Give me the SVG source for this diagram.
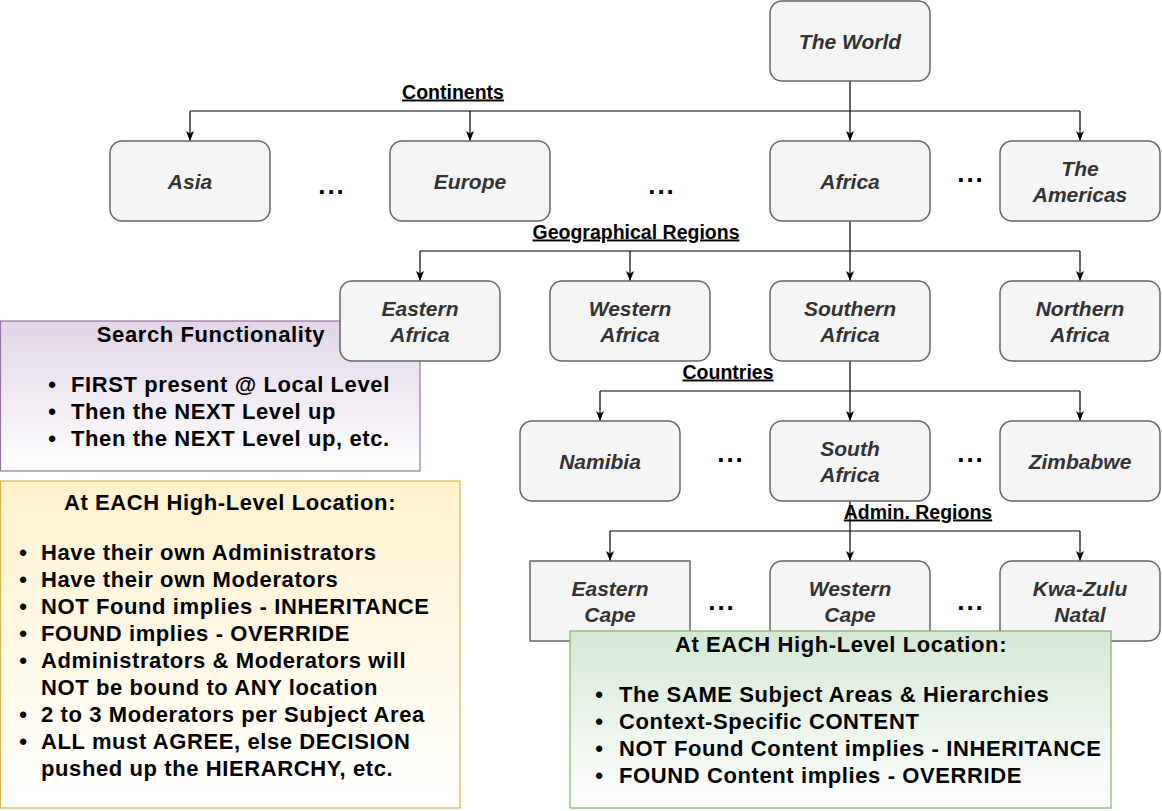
<svg xmlns="http://www.w3.org/2000/svg" width="1162" height="811" viewBox="0 0 1162 811">
<defs>
<linearGradient id="gP" x1="0" y1="0" x2="0" y2="1"><stop offset="0" stop-color="#e1d5e7"/><stop offset="1" stop-color="#ffffff"/></linearGradient>
<linearGradient id="gY" x1="0" y1="0" x2="0" y2="1"><stop offset="0" stop-color="#fff2cc"/><stop offset="1" stop-color="#ffffff"/></linearGradient>
<linearGradient id="gG" x1="0" y1="0" x2="0" y2="1"><stop offset="0" stop-color="#d5e8d4"/><stop offset="1" stop-color="#ffffff"/></linearGradient>
<marker id="arr" viewBox="0 0 10 10" refX="10" refY="5" markerWidth="10" markerHeight="10" markerUnits="userSpaceOnUse" orient="auto">
<path d="M0,1 L10,5 L0,9 L2.5,5 Z" fill="#000"/>
</marker>
<style>
.n{fill:#f5f5f5;stroke:#666666;stroke-width:1.5}
.nt{font-family:"Liberation Sans",Arial,sans-serif;font-size:21px;font-weight:bold;font-style:italic;fill:#333333;text-anchor:middle}
.lb{font-family:"Liberation Sans",Arial,sans-serif;font-size:19.5px;font-weight:bold;fill:#000;text-anchor:middle;text-decoration:underline}
.dots{font-family:"Liberation Sans",Arial,sans-serif;font-size:26px;font-weight:bold;fill:#000;text-anchor:middle;letter-spacing:2px}
.bt{font-family:"Liberation Sans",Arial,sans-serif;font-size:22px;font-weight:bold;fill:#000;letter-spacing:0.6px}
.ttl{text-anchor:middle}
.bl{font-family:"Liberation Sans",Arial,sans-serif;font-size:22px;font-weight:bold;fill:#000;text-anchor:middle}
.c{fill:none;stroke:#000;stroke-width:1.2}
</style>
</defs>
<rect width="1162" height="811" fill="#ffffff"/>

<g id="search-functionality">
<rect x="0.5" y="321" width="419.5" height="150" fill="url(#gP)" stroke="#9673a6" stroke-width="1.2"/>
<text class="bt ttl" x="211" y="342">Search Functionality</text>
<text class="bl" x="52" y="392">•</text><text class="bt" x="71" y="392">FIRST present @ Local Level</text>
<text class="bl" x="52" y="419">•</text><text class="bt" x="71" y="419">Then the NEXT Level up</text>
<text class="bl" x="52" y="446">•</text><text class="bt" x="71" y="446">Then the NEXT Level up, etc.</text>
</g>

<g id="high-level-admin">
<rect x="0.5" y="481" width="459.5" height="327" fill="url(#gY)" stroke="#d6b656" stroke-width="1.2"/>
<text class="bt ttl" x="230" y="510">At EACH High-Level Location:</text>
<text class="bl" x="23" y="560">•</text><text class="bt" x="41" y="560">Have their own Administrators</text>
<text class="bl" x="23" y="587">•</text><text class="bt" x="41" y="587">Have their own Moderators</text>
<text class="bl" x="23" y="614">•</text><text class="bt" x="41" y="614">NOT Found implies - INHERITANCE</text>
<text class="bl" x="23" y="641">•</text><text class="bt" x="41" y="641">FOUND implies - OVERRIDE</text>
<text class="bl" x="23" y="668">•</text><text class="bt" x="41" y="668">Administrators &amp; Moderators will</text>
<text class="bt" x="41" y="695">NOT be bound to ANY location</text>
<text class="bl" x="23" y="722">•</text><text class="bt" x="41" y="722">2 to 3 Moderators per Subject Area</text>
<text class="bl" x="23" y="749">•</text><text class="bt" x="41" y="749">ALL must AGREE, else DECISION</text>
<text class="bt" x="41" y="776">pushed up the HIERARCHY, etc.</text>
</g>

<g id="connectors">
<path class="c" d="M850,81 V141" marker-end="url(#arr)"/>
<path class="c" d="M190,111 H1080"/>
<path class="c" d="M190,111 V141" marker-end="url(#arr)"/>
<path class="c" d="M470,111 V141" marker-end="url(#arr)"/>
<path class="c" d="M1080,111 V141" marker-end="url(#arr)"/>
<path class="c" d="M850,221 V281" marker-end="url(#arr)"/>
<path class="c" d="M420,251 H1080"/>
<path class="c" d="M420,251 V281" marker-end="url(#arr)"/>
<path class="c" d="M630,251 V281" marker-end="url(#arr)"/>
<path class="c" d="M1080,251 V281" marker-end="url(#arr)"/>
<path class="c" d="M850,361 V421" marker-end="url(#arr)"/>
<path class="c" d="M600,391 H1080"/>
<path class="c" d="M600,391 V421" marker-end="url(#arr)"/>
<path class="c" d="M1080,391 V421" marker-end="url(#arr)"/>
<path class="c" d="M850,501 V561" marker-end="url(#arr)"/>
<path class="c" d="M610,531 H1080"/>
<path class="c" d="M610,531 V561" marker-end="url(#arr)"/>
<path class="c" d="M1080,531 V561" marker-end="url(#arr)"/>
<text class="lb" x="453" y="98.5">Continents</text>
<text class="lb" x="636" y="238.5">Geographical Regions</text>
<text class="lb" x="728" y="378.5">Countries</text>
<text class="lb" x="918" y="518.5">Admin. Regions</text>
</g>

<g id="the-world"><rect class="n" x="770" y="1" width="160" height="80" rx="12"/><text class="nt" x="850" y="48.5">The World</text></g>
<g id="asia"><rect class="n" x="110" y="141" width="160" height="80" rx="12"/><text class="nt" x="190" y="188.5">Asia</text></g>
<g id="europe"><rect class="n" x="390" y="141" width="160" height="80" rx="12"/><text class="nt" x="470" y="188.5">Europe</text></g>
<g id="africa"><rect class="n" x="770" y="141" width="160" height="80" rx="12"/><text class="nt" x="850" y="188.5">Africa</text></g>
<g id="the-americas"><rect class="n" x="1000" y="141" width="160" height="80" rx="12"/><text class="nt" x="1080" y="175.5">The</text><text class="nt" x="1080" y="201.5">Americas</text></g>

<g id="eastern-africa"><rect class="n" x="340" y="281" width="160" height="80" rx="12"/><text class="nt" x="420" y="315.5">Eastern</text><text class="nt" x="420" y="341.5">Africa</text></g>
<g id="western-africa"><rect class="n" x="550" y="281" width="160" height="80" rx="12"/><text class="nt" x="630" y="315.5">Western</text><text class="nt" x="630" y="341.5">Africa</text></g>
<g id="southern-africa"><rect class="n" x="770" y="281" width="160" height="80" rx="12"/><text class="nt" x="850" y="315.5">Southern</text><text class="nt" x="850" y="341.5">Africa</text></g>
<g id="northern-africa"><rect class="n" x="1000" y="281" width="160" height="80" rx="12"/><text class="nt" x="1080" y="315.5">Northern</text><text class="nt" x="1080" y="341.5">Africa</text></g>

<g id="namibia"><rect class="n" x="520" y="421" width="160" height="80" rx="12"/><text class="nt" x="600" y="468.5">Namibia</text></g>
<g id="south-africa"><rect class="n" x="770" y="421" width="160" height="80" rx="12"/><text class="nt" x="850" y="455.5">South</text><text class="nt" x="850" y="481.5">Africa</text></g>
<g id="zimbabwe"><rect class="n" x="1000" y="421" width="160" height="80" rx="12"/><text class="nt" x="1080" y="468.5">Zimbabwe</text></g>

<g id="eastern-cape"><rect class="n" x="530" y="561" width="160" height="80"/><text class="nt" x="610" y="595.5">Eastern</text><text class="nt" x="610" y="621.5">Cape</text></g>
<g id="western-cape"><rect class="n" x="770" y="561" width="160" height="80" rx="12"/><text class="nt" x="850" y="595.5">Western</text><text class="nt" x="850" y="621.5">Cape</text></g>
<g id="kwa-zulu-natal"><rect class="n" x="1000" y="561" width="160" height="80" rx="12"/><text class="nt" x="1080" y="595.5">Kwa-Zulu</text><text class="nt" x="1080" y="621.5">Natal</text></g>

<g id="ellipses">
<text class="dots" x="332" y="194">...</text>
<text class="dots" x="662" y="194">...</text>
<text class="dots" x="971" y="182">...</text>
<text class="dots" x="731" y="462">...</text>
<text class="dots" x="971" y="462">...</text>
<text class="dots" x="722" y="610">...</text>
<text class="dots" x="971" y="610">...</text>
</g>

<g id="high-level-content">
<rect x="570" y="631" width="541" height="177" fill="url(#gG)" stroke="#82b366" stroke-width="1.2"/>
<text class="bt ttl" x="841" y="652">At EACH High-Level Location:</text>
<text class="bl" x="599" y="702">•</text><text class="bt" x="619" y="702">The SAME Subject Areas &amp; Hierarchies</text>
<text class="bl" x="599" y="729">•</text><text class="bt" x="619" y="729">Context-Specific CONTENT</text>
<text class="bl" x="599" y="756">•</text><text class="bt" x="619" y="756">NOT Found Content implies - INHERITANCE</text>
<text class="bl" x="599" y="783">•</text><text class="bt" x="619" y="783">FOUND Content implies - OVERRIDE</text>
</g>
</svg>
